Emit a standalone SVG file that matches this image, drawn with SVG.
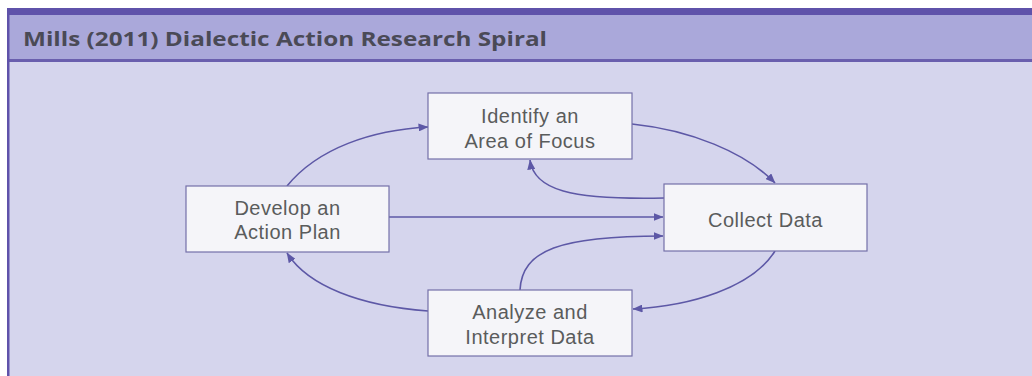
<svg xmlns="http://www.w3.org/2000/svg" width="1032" height="376" viewBox="0 0 1032 376">
  <style>
    .box { fill: #f5f5f9; stroke: #7470a8; stroke-width: 1.2; }
    .label { font-family: "Liberation Sans", Arial, sans-serif; font-size: 20px; letter-spacing: 0.5px; fill: #5a5c5c; text-anchor: middle; }
    .title { font-family: "Open Sans", "Liberation Sans", sans-serif; font-size: 20px; font-weight: bold; fill: #4a4a56; }
    .link { fill: none; stroke: #5d58a6; stroke-width: 1.6; marker-end: url(#head); }
  </style>
  <defs>
    <marker id="head" viewBox="0 0 10 8" refX="9.5" refY="4" markerWidth="10" markerHeight="8" markerUnits="userSpaceOnUse" orient="auto">
      <path d="M0,0 L10,4 L0,8 Z" fill="#5d58a6"/>
    </marker>
  </defs>

  <!-- page and panel frame -->
  <rect x="0" y="0" width="1032" height="376" fill="#ffffff"/>
  <rect x="7" y="8" width="1025" height="368" fill="#d5d5ed"/>
  <rect x="7" y="8" width="1025" height="52" fill="#aaa8da"/>
  <rect x="7" y="8" width="1025" height="7" fill="#5f52aa"/>
  <rect x="7" y="59" width="1025" height="3" fill="#6a5fae"/>
  <rect x="7" y="8" width="2.5" height="368" fill="#5f52aa"/>

  <text class="title" x="23" y="46" textLength="524" lengthAdjust="spacingAndGlyphs">Mills (2011) Dialectic Action Research Spiral</text>

  <g id="connectors">
    <!-- plan -> focus -->
    <path class="link" d="M287,186 C318,148 372,130 428,127"/>
    <!-- focus -> collect -->
    <path class="link" d="M632,124 C690,130 745,152 775,183"/>
    <!-- collect -> focus -->
    <path class="link" d="M664,198 C570,200 534,190 530,160"/>
    <!-- plan -> collect -->
    <path class="link" d="M389,217 L663,217"/>
    <!-- analyze -> collect -->
    <path class="link" d="M520,290 C522,250 560,236 663,236"/>
    <!-- collect -> analyze -->
    <path class="link" d="M775,251 C752,288 690,306 633,309"/>
    <!-- analyze -> plan -->
    <path class="link" d="M428,311 C360,306 308,286 287,253"/>
  </g>

  <g id="focus">
    <rect class="box" x="428" y="93" width="204" height="66"/>
    <text class="label" x="530" y="123">Identify an</text>
    <text class="label" x="530" y="148">Area of Focus</text>
  </g>

  <g id="plan">
    <rect class="box" x="186" y="186" width="203" height="66"/>
    <text class="label" x="287.5" y="214.5">Develop an</text>
    <text class="label" x="287.5" y="239">Action Plan</text>
  </g>

  <g id="collect">
    <rect class="box" x="664" y="184" width="203" height="67"/>
    <text class="label" x="765.5" y="226.5">Collect Data</text>
  </g>

  <g id="analyze">
    <rect class="box" x="428" y="290" width="204" height="66"/>
    <text class="label" x="530" y="318.5">Analyze and</text>
    <text class="label" x="530" y="343.5">Interpret Data</text>
  </g>
</svg>
